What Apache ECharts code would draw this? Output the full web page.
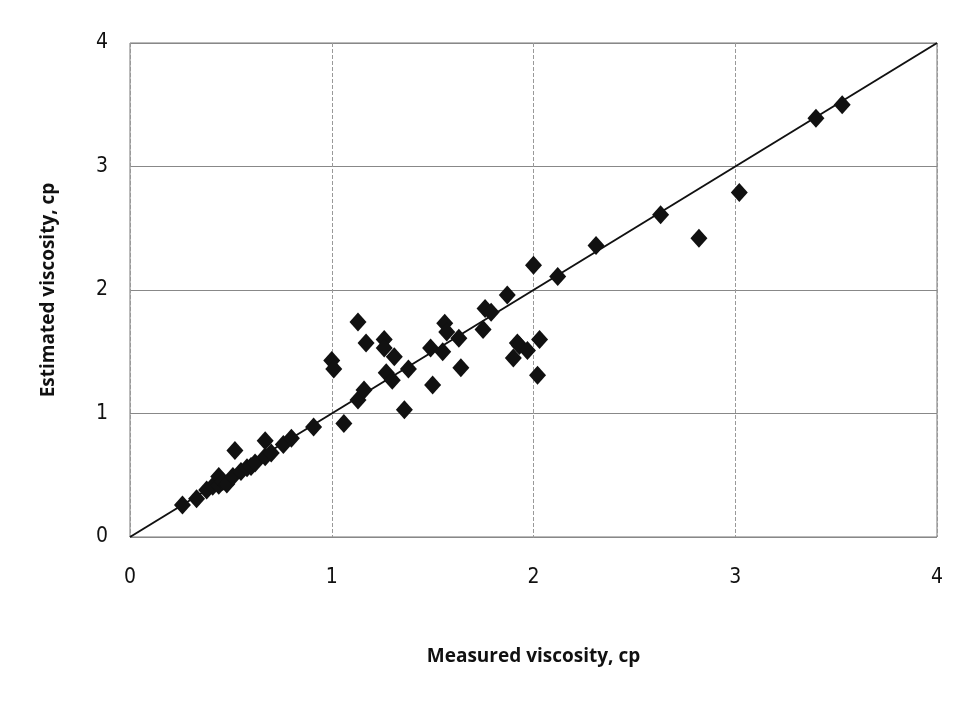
<!DOCTYPE html>
<html><head><meta charset="utf-8">
<script src="https://cdn.jsdelivr.net/npm/echarts@6/dist/echarts.min.js"></script>
<style>html,body{margin:0;padding:0;background:#fff}#c{width:966px;height:712px}</style>
</head><body><div id="c"></div>
<script>
const measured = [0.26,0.33,0.38,0.41,0.44,0.44,0.46,0.48,0.51,0.52,0.55,0.58,0.60,0.62,0.67,0.67,0.70,0.76,0.80,0.91,
  1.00,1.01,1.06,1.13,1.13,1.16,1.17,1.26,1.26,1.27,1.30,1.31,1.36,1.38,1.49,1.50,1.55,1.56,1.57,1.63,1.64,1.75,1.76,1.79,1.87,
  1.90,1.92,1.93,1.97,2.00,2.02,2.03,2.12,2.31,2.63,2.82,3.02,3.40,3.53];
const estimated = [0.26,0.31,0.38,0.41,0.42,0.49,0.45,0.43,0.49,0.70,0.53,0.56,0.57,0.60,0.78,0.65,0.68,0.75,0.80,0.89,
  1.43,1.36,0.92,1.74,1.11,1.19,1.57,1.60,1.53,1.33,1.27,1.46,1.03,1.36,1.53,1.23,1.50,1.73,1.66,1.61,1.37,1.68,1.85,1.82,1.96,
  1.45,1.57,1.55,1.51,2.20,1.31,1.60,2.11,2.36,2.61,2.42,2.79,3.39,3.50];
const lineX = [0, 4];
const lineY = [0, 4];
const ticks = [0,1,2,3,4];

const pts = measured.map((m,i)=>[m, estimated[i]]);
const chart = echarts.init(document.getElementById('c'));
const font = '"Open Sans", "Liberation Sans", sans-serif';
chart.setOption({
  backgroundColor:'#fff',
  animation:false,
  grid:{left:130,right:29,top:43,bottom:175,show:true,borderColor:'#777',borderWidth:1},
  xAxis:{type:'value',min:0,max:4,interval:1,
    name:'Measured viscosity, cp',nameLocation:'middle',nameGap:110,
    nameTextStyle:{fontFamily:font,fontSize:19,fontWeight:'bold',color:'#111'},
    axisLine:{show:false},axisTick:{show:false},
    axisLabel:{fontFamily:'"Liberation Sans Narrow", "DejaVu Sans Condensed", sans-serif',fontSize:21,color:'#111',margin:30},
    splitLine:{show:true,lineStyle:{color:'#999',type:'dashed',width:1}}},
  yAxis:{type:'value',min:0,max:4,interval:1,
    name:'Estimated viscosity, cp',nameLocation:'middle',nameGap:72,
    nameTextStyle:{fontFamily:font,fontSize:19,fontWeight:'bold',color:'#111'},
    axisLine:{show:false},axisTick:{show:false},
    axisLabel:{fontFamily:'"Liberation Sans Narrow", "DejaVu Sans Condensed", sans-serif',fontSize:21,color:'#111',margin:22},
    splitLine:{show:true,lineStyle:{color:'#888',type:'solid',width:1}}},
  series:[
    {type:'line',data:lineX.map((x,i)=>[x,lineY[i]]),symbol:'none',lineStyle:{color:'#111',width:2},z:3},
    {type:'scatter',data:pts,symbol:'diamond',symbolSize:[17,19],itemStyle:{color:'#111',opacity:1},z:4}
  ]
});
</script></body></html>
